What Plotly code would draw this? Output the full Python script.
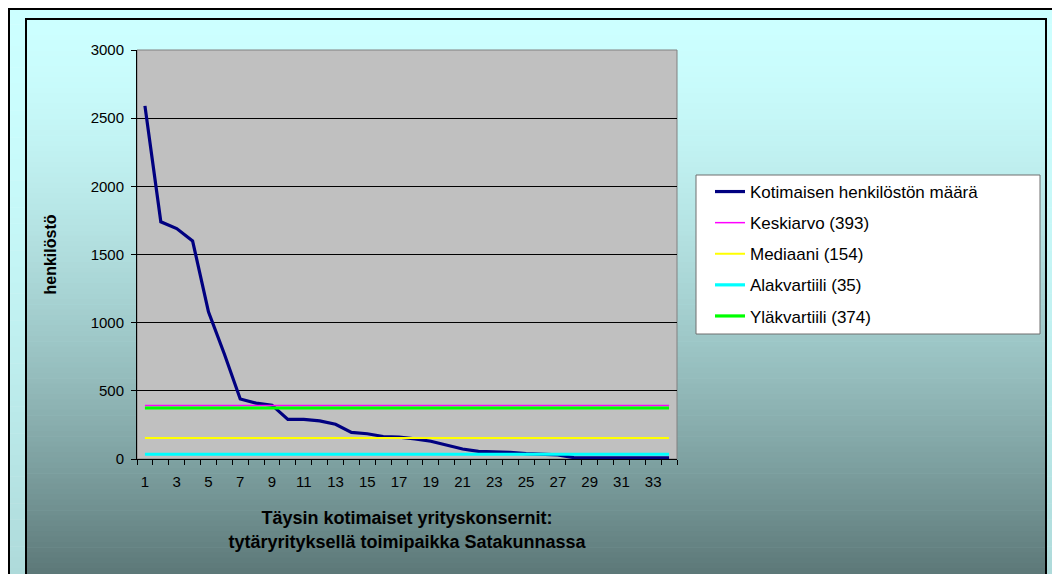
import plotly.graph_objects as go

# ---------------- data ----------------
companies = list(range(1, 35))
staff = [2590, 1740, 1690, 1600, 1080, 770, 440, 410, 395, 290,
         290, 280, 255, 195, 185, 165, 160, 148, 130, 100,
         73, 56, 53, 48, 40, 34, 30, 10, 8, 8,
         8, 8, 8, 8]
series_names = ["Kotimaisen henkilöstön määrä", "Keskiarvo (393)", "Mediaani (154)",
                "Alakvartiili (35)", "Yläkvartiili (374)"]
mean_val = 393
median_val = 154
lower_q = 35
upper_q = 374
x_tick_labels = [str(v) for v in range(1, 34, 2)]
y_ticks = [0, 500, 1000, 1500, 2000, 2500, 3000]

# ---------------- geometry helpers (screen pixel -> paper) ----------------
W, H = 1060, 574
OFF = 8  # page body margin
ML, MT = 137 - OFF, 50 - OFF
PW, PH = 540, 409
MR = W - ML - PW
MB = H - MT - PH


def px(x):
    return (x - OFF - ML) / PW


def py(y):
    return (MT + PH - (y - OFF)) / PH


def lerp(c0, c1, f):
    return "rgb(%d,%d,%d)" % tuple(round(a + (b - a) * f) for a, b in zip(c0, c1))


shapes = []


def gradient(x0, x1, y0, y1, c0, c1, y_ref_end, n=110, gamma=1.6):
    h = (y1 - y0) / n
    for i in range(n):
        ya = y0 + i * h
        yb = ya + h + 0.6
        t = min(max(((ya + h / 2) - y0) / (y_ref_end - y0), 0), 1)
        shapes.append(dict(type="rect", xref="paper", yref="paper", layer="below",
                           x0=px(x0), x1=px(x1), y0=py(yb), y1=py(ya),
                           fillcolor=lerp(c0, c1, t ** gamma), line=dict(width=0)))


# outer band
gradient(8, 1080, 8, 600, (204, 255, 255), (174, 218, 218), 574)
shapes.append(dict(type="rect", xref="paper", yref="paper", layer="below",
                   x0=px(9), x1=px(1090), y0=py(620), y1=py(9),
                   fillcolor="rgba(0,0,0,0)", line=dict(color="black", width=2)))
# inner area
gradient(26, 1046, 19, 600, (204, 255, 255), (92, 120, 120), 574)
shapes.append(dict(type="rect", xref="paper", yref="paper", layer="below",
                   x0=px(26), x1=px(1046), y0=py(620), y1=py(19),
                   fillcolor="rgba(0,0,0,0)", line=dict(color="black", width=2)))
# plot area
shapes.append(dict(type="rect", xref="paper", yref="paper", layer="below",
                   x0=0, x1=1, y0=0, y1=1,
                   fillcolor="#C0C0C0", line=dict(color="#808080", width=1)))
# legend box
shapes.append(dict(type="rect", xref="paper", yref="paper", layer="below",
                   x0=px(696), x1=px(1040), y0=py(334), y1=py(175),
                   fillcolor="white", line=dict(color="#6E6E6E", width=1)))

FONT = "Liberation Sans, Arial, sans-serif"

fig = go.Figure()
fig.add_trace(go.Scatter(x=companies, y=staff, mode="lines", name=series_names[0],
                         legendgroup="a", line=dict(color="#000080", width=3.2)))
fig.add_trace(go.Scatter(x=companies, y=[mean_val] * len(companies), mode="lines",
                         name=series_names[1], legendgroup="b",
                         line=dict(color="#FF00FF", width=1.5)))
fig.add_trace(go.Scatter(x=companies, y=[median_val] * len(companies), mode="lines",
                         name=series_names[2], legendgroup="c",
                         line=dict(color="#FFFF00", width=2)))
fig.add_trace(go.Scatter(x=companies, y=[lower_q] * len(companies), mode="lines",
                         name=series_names[3], legendgroup="d",
                         line=dict(color="#00FFFF", width=3.2)))
fig.add_trace(go.Scatter(x=companies, y=[upper_q] * len(companies), mode="lines",
                         name=series_names[4], legendgroup="e",
                         line=dict(color="#00FF00", width=3.2)))

fig.update_layout(
    width=W, height=H,
    margin=dict(l=ML, r=MR, t=MT, b=MB, pad=0),
    paper_bgcolor="white",
    plot_bgcolor="rgba(0,0,0,0)",
    font=dict(family=FONT, color="black", size=15),
    shapes=shapes,
    showlegend=True,
    legend=dict(x=px(710), y=py(174), xanchor="left", yanchor="top",
                bgcolor="rgba(0,0,0,0)", borderwidth=0,
                font=dict(family=FONT, size=17, color="black"),
                tracegroupgap=6, itemwidth=30),
    xaxis=dict(range=[0.5, 34.5], tickmode="array", tickvals=list(range(1, 34, 2)),
               ticktext=x_tick_labels, ticks="", showgrid=False, zeroline=False,
               showline=True, linecolor="black", linewidth=1,
               tickfont=dict(family=FONT, size=15, color="black"),
               ticklabelstandoff=9,
               minor=dict(tickmode="linear", tick0=0.5, dtick=1, ticks="outside",
                          ticklen=5, tickcolor="black", showgrid=False),
               title=dict(text="<b>Täysin kotimaiset yrityskonsernit:<br>tytäryrityksellä toimipaikka Satakunnassa</b>",
                          font=dict(family=FONT, size=18, color="black"), standoff=22)),
    yaxis=dict(range=[0, 3000], tickmode="array", tickvals=y_ticks,
               ticks="outside", ticklen=5, tickcolor="black",
               ticklabelstandoff=4,
               showgrid=True, gridcolor="black", gridwidth=1, zeroline=False,
               showline=True, linecolor="black", linewidth=1,
               tickfont=dict(family=FONT, size=15, color="black"),
               title=dict(text="<b>henkilöstö</b>",
                          font=dict(family=FONT, size=16, color="black"), standoff=30)),
)

fig.write_html("out.html")
